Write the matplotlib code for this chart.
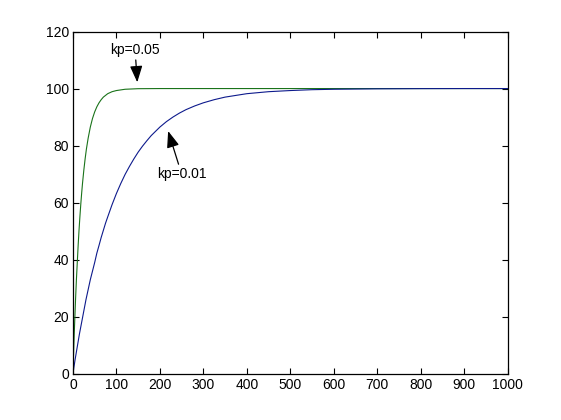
import matplotlib
matplotlib.use("Agg")
import matplotlib.pyplot as plt

# Data
x_kp001 = [0, 2, 5, 10, 15, 20, 25, 30, 35, 40, 45, 50, 55, 60, 65, 70, 75, 80, 90, 100,
           110, 120, 130, 140, 150, 160, 170, 180, 190, 200, 215, 230, 245, 260, 280,
           300, 325, 350, 375, 400, 450, 500, 550, 600, 700, 800, 900, 1000]
y_kp001 = [0, 2, 5, 9.5, 14, 18, 22, 26, 29.5, 33, 36, 39, 42.3, 45, 47.8, 50.3, 52.8, 55,
           59.3, 63.2, 66.7, 69.9, 72.7, 75.3, 77.7, 79.8, 81.7, 83.5, 85, 86.5, 88.4,
           90, 91.4, 92.6, 93.9, 95, 96.1, 97, 97.6, 98.2, 98.9, 99.3, 99.6, 99.75,
           99.9, 99.97, 100, 100]

x_kp005 = [0, 1, 2, 3, 4, 5, 6, 7, 8, 9, 10, 12, 14, 16, 18, 20, 22, 25, 28, 31, 35,
           40, 45, 50, 55, 60, 65, 70, 80, 90, 100, 120, 150, 200, 300, 500, 700, 1000]
y_kp005 = [0, 5, 9.5, 14, 18, 22, 26, 29.5, 33, 36, 39, 45, 50.3, 55, 59.3, 63.2, 66.7,
           71.3, 75.3, 78.8, 82.6, 86.5, 89.5, 91.8, 93.6, 95, 96.1, 97, 98.2, 98.9,
           99.3, 99.75, 99.95, 100, 100, 100, 100, 100]

x_ticks = [0, 100, 200, 300, 400, 500, 600, 700, 800, 900, 1000]
y_ticks = [0, 20, 40, 60, 80, 100, 120]

label_005 = "kp=0.05"
label_001 = "kp=0.01"

plt.rcParams['font.family'] = ['Liberation Sans', 'DejaVu Sans']

fig = plt.figure(figsize=(5.61, 4.20), dpi=100, facecolor='white')
ax = fig.add_axes([0.13, 0.11, 0.775, 0.815])

ax.plot(x_kp005, y_kp005, color=(0.1, 0.45, 0.1), lw=0.8)
ax.plot(x_kp001, y_kp001, color=(0.05, 0.1, 0.55), lw=0.8)

ax.set_xlim(0, 1000)
ax.set_ylim(0, 120)
ax.set_xticks(x_ticks)
ax.set_yticks(y_ticks)
ax.tick_params(direction='in', top=True, right=True, length=4, width=0.8,
               labelsize=10, colors='black', pad=3)
for s in ax.spines.values():
    s.set_linewidth(0.9)
    s.set_color('black')

arrow = dict(arrowstyle='-|>,head_length=1.0,head_width=0.38', color='black', lw=0.9,
             shrinkA=0, shrinkB=0)
ax.annotate(label_005, xy=(148, 102.2), xytext=(143, 111.0),
            fontsize=10, ha='center', va='bottom', arrowprops=arrow)
ax.annotate(label_001, xy=(219, 85.1), xytext=(250, 72.5),
            fontsize=10, ha='center', va='top', arrowprops=arrow)

fig.savefig("out.png", dpi=100, facecolor='white')
